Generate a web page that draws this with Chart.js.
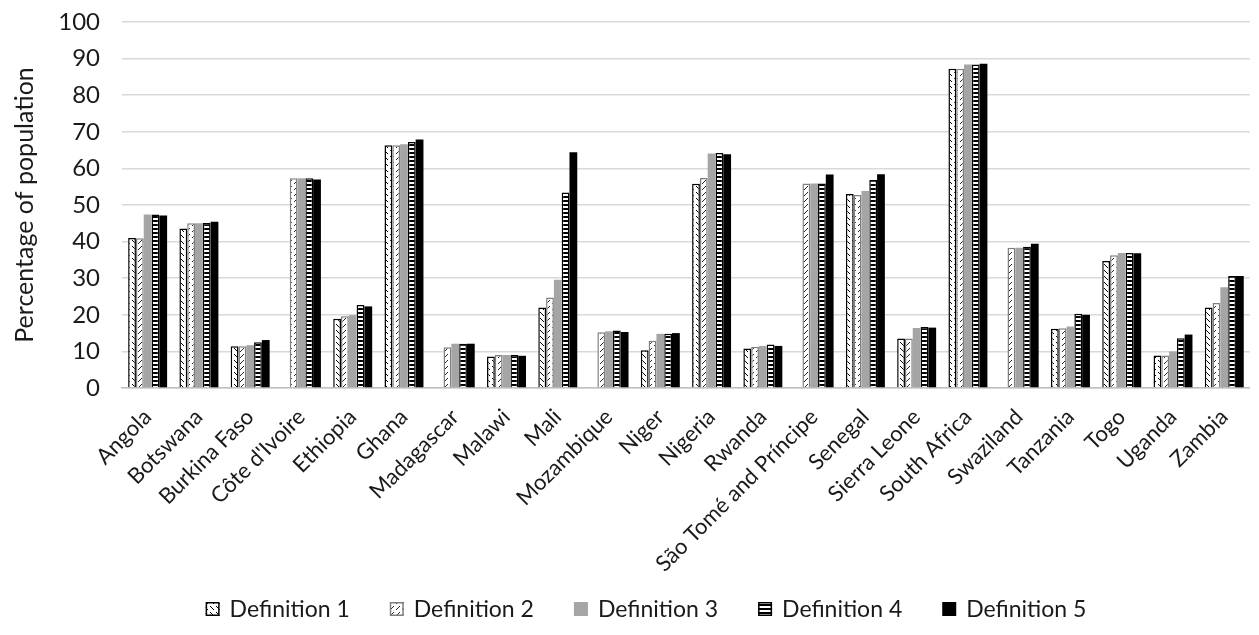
<!DOCTYPE html>
<html>
<head>
<meta charset="utf-8">
<script src="https://cdn.jsdelivr.net/npm/chart.js@4/dist/chart.umd.min.js"></script>
<style>
  html, body { margin: 0; padding: 0; background: #ffffff; }
  #wrap { width: 1259px; height: 635px; }
</style>
</head>
<body>
<div id="wrap"><canvas id="chart" width="1259" height="635"></canvas></div>
<script>
// Countries on the category axis
const countries = ["Angola", "Botswana", "Burkina Faso", "Côte d'Ivoire", "Ethiopia", "Ghana",
  "Madagascar", "Malawi", "Mali", "Mozambique", "Niger", "Nigeria", "Rwanda",
  "São Tomé and Príncipe", "Senegal", "Sierra Leone", "South Africa", "Swaziland",
  "Tanzania", "Togo", "Uganda", "Zambia"];

// Share of the population (%) under each definition; null = not available
const definition1 = [41.0, 43.6, 11.4, null, 18.9, 66.3, null, 8.6, 22.0, null, 10.3, 55.8,
  10.8, null, 53.0, 13.5, 87.2, null, 16.2, 34.7, 8.9, 22.0];
const definition2 = [40.9, 45.0, 11.4, 57.3, 19.6, 66.3, 11.1, 9.0, 24.7, 15.2, 12.9, 57.4,
  11.3, 55.9, 52.7, 13.5, 87.2, 38.3, 16.3, 36.3, 8.9, 23.2];
const definition3 = [47.4, 45.0, 11.7, 57.3, 19.9, 66.6, 12.1, 9.0, 29.6, 15.5, 14.8, 64.1,
  11.5, 55.9, 53.8, 16.4, 88.4, 38.3, 16.8, 36.9, 10.0, 27.5];
const definition4 = [47.4, 45.1, 12.5, 57.3, 22.7, 67.2, 12.1, 9.0, 53.4, 15.7, 14.8, 64.2,
  11.9, 55.9, 56.8, 16.7, 88.4, 38.6, 20.3, 36.9, 13.6, 30.6];
const definition5 = [47.1, 45.4, 13.1, 57.0, 22.3, 67.9, 12.1, 8.8, 64.4, 15.3, 15.0, 63.9,
  11.5, 58.3, 58.4, 16.5, 88.6, 39.4, 20.0, 36.8, 14.6, 30.6];

const seriesNames = ["Definition 1", "Definition 2", "Definition 3", "Definition 4", "Definition 5"];

// Y axis ticks
const yMin = 0, yMax = 100, yStep = 10;

// ---- fill patterns ----
function makePattern(w, h, paint) {
  const c = document.createElement('canvas');
  c.width = w; c.height = h;
  const g = c.getContext('2d');
  paint(g);
  return g.createPattern(c, 'repeat');
}
const ctx = document.getElementById('chart').getContext('2d');

// dashed downward diagonals, black on white
const pattern1 = makePattern(6, 6, g => {
  g.fillStyle = '#ffffff'; g.fillRect(0, 0, 6, 6);
  g.fillStyle = '#000000';
  g.fillRect(0, 0, 1, 1); g.fillRect(1, 1, 1, 1); g.fillRect(2, 2, 1, 1);
  g.fillRect(3, 3, 1, 1);
});
// dashed upward diagonals, dark grey on white
const pattern2 = makePattern(6, 6, g => {
  g.fillStyle = '#ffffff'; g.fillRect(0, 0, 6, 6);
  g.fillStyle = '#262626';
  g.fillRect(3, 0, 1, 1); g.fillRect(2, 1, 1, 1); g.fillRect(1, 2, 1, 1); g.fillRect(0, 3, 1, 1);
});
// horizontal stripes, black and white
const pattern4 = makePattern(4, 4, g => {
  g.fillStyle = '#000000'; g.fillRect(0, 0, 4, 4);
  g.fillStyle = '#ffffff'; g.fillRect(0, 2, 4, 2);
});

const fonts = "Lato, 'Open Sans', 'DejaVu Sans', sans-serif";
const textColor = '#1a1a1a';

const data = {
  labels: countries,
  datasets: [
    { label: seriesNames[0], data: definition1, backgroundColor: pattern1, borderColor: '#000000', borderWidth: 1.5 },
    { label: seriesNames[1], data: definition2, backgroundColor: pattern2, borderColor: '#7f7f7f', borderWidth: 1.5 },
    { label: seriesNames[2], data: definition3, backgroundColor: '#a5a5a5', borderColor: '#a5a5a5', borderWidth: 0 },
    { label: seriesNames[3], data: definition4, backgroundColor: pattern4, borderColor: '#000000', borderWidth: 1.5 },
    { label: seriesNames[4], data: definition5, backgroundColor: '#000000', borderColor: '#000000', borderWidth: 0 }
  ]
};

// Legend row drawn below the axis labels: swatch, label, evenly spaced
const legendRow = {
  id: 'legendRow',
  afterDraw(chart) {
    const g = chart.ctx;
    const box = 14, gapText = 10, gapItem = 40, centerX = 646, centerY = 609;
    g.save();
    g.font = "23px " + fonts;
    g.textBaseline = 'middle';
    g.textAlign = 'left';
    const sets = chart.data.datasets;
    const widths = sets.map(ds => box + gapText + g.measureText(ds.label).width);
    const total = widths.reduce((a, b) => a + b, 0) + gapItem * (sets.length - 1);
    let x = centerX - total / 2;
    sets.forEach((ds, i) => {
      const top = centerY - box / 2;
      g.fillStyle = ds.backgroundColor;
      g.fillRect(x, top, box, box);
      if (ds.borderWidth > 0) {
        g.strokeStyle = ds.borderColor;
        g.lineWidth = ds.borderWidth;
        const h = ds.borderWidth / 2;
        g.strokeRect(x + h, top + h, box - ds.borderWidth, box - ds.borderWidth);
      }
      g.fillStyle = textColor;
      g.fillText(ds.label, x + box + gapText, centerY + 1);
      x += widths[i] + gapItem;
    });
    g.restore();
  }
};

new Chart(ctx, {
  type: 'bar',
  data: data,
  plugins: [legendRow],
  options: {
    responsive: false,
    animation: false,
    devicePixelRatio: 1,
    layout: { padding: { top: 22, right: 3, bottom: 57, left: 0 } },
    datasets: { bar: { categoryPercentage: 0.76, barPercentage: 1.0 } },
    plugins: {
      tooltip: { enabled: false },
      legend: { display: false }
    },
    scales: {
      x: {
        grid: { display: false, drawTicks: false },
        border: { display: true, color: '#bfbfbf', width: 1.5 },
        ticks: {
          autoSkip: false,
          minRotation: 45,
          maxRotation: 45,
          padding: 16,
          font: { family: fonts, size: 22 },
          color: textColor
        },
        afterFit: s => { s.height = 190; }
      },
      y: {
        min: yMin,
        max: yMax,
        grid: {
          color: '#d9d9d9',
          lineWidth: 1.5,
          drawTicks: true,
          tickLength: 19,
          tickColor: 'rgba(0,0,0,0)'
        },
        border: { display: false },
        ticks: {
          stepSize: yStep,
          padding: 3,
          font: { family: fonts, size: 24 },
          color: textColor
        },
        title: {
          display: true,
          text: 'Percentage of population',
          font: { family: fonts, size: 25 },
          color: textColor,
          padding: { top: 10, bottom: 0 }
        },
        afterFit: s => { s.width = 122; }
      }
    }
  }
});
</script>
</body>
</html>
